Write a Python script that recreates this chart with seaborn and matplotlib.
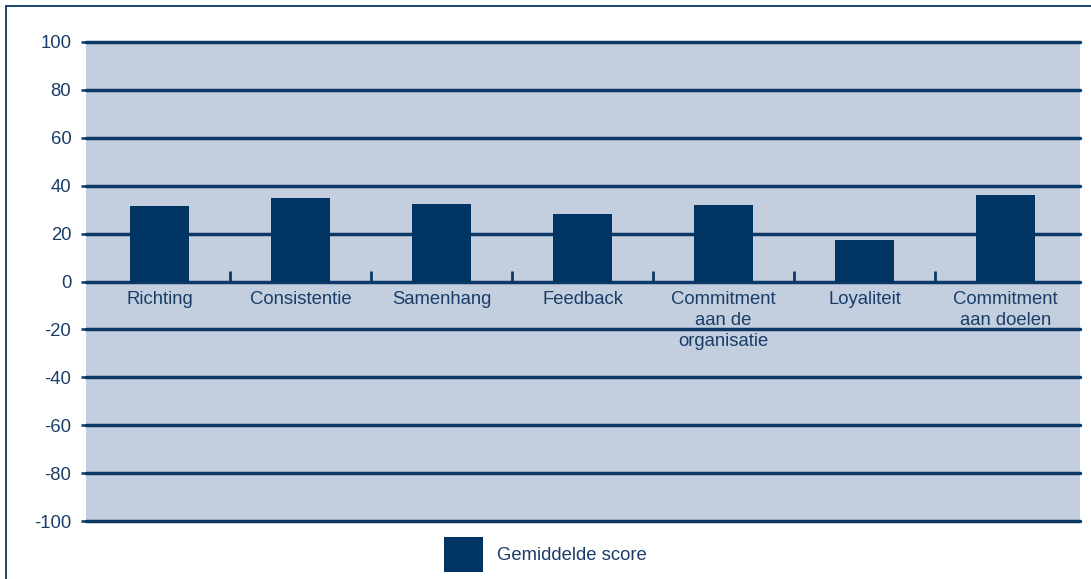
import matplotlib
matplotlib.use("Agg")
import matplotlib.pyplot as plt
import seaborn as sns
import pandas as pd
from matplotlib.patches import Rectangle

categories = ["Richting", "Consistentie", "Samenhang", "Feedback",
              "Commitment\naan de\norganisatie", "Loyaliteit", "Commitment\naan doelen"]
scores = [31.5, 34.8, 32.2, 28.0, 31.8, 17.3, 36.0]
yticks = [-100, -80, -60, -40, -20, 0, 20, 40, 60, 80, 100]
series_name = "Gemiddelde score"

NAVY = "#003462"
LINE = "#0b3865"
TXT = "#1a3d68"
BG = "#c3cede"
FS = 13.3

sns.set_theme(style="white")
plt.rcParams["font.family"] = ["Liberation Sans", "DejaVu Sans"]

df = pd.DataFrame({"cat": categories, "score": scores})

fig = plt.figure(figsize=(10.91, 5.79), dpi=100)
ax = fig.add_axes([86/1091, 1-521/579, (1080-86)/1091, (521-42)/579])
ax.set_facecolor(BG)

sns.barplot(data=df, x="cat", y="score", color=NAVY, saturation=1,
            width=0.42, ax=ax, label=series_name, zorder=3, linewidth=0,
            legend=False)

h, l = ax.get_legend_handles_labels()
if ax.get_legend() is not None:
    ax.get_legend().remove()

ax.set_xlim(-0.521, 6.528)
ax.set_ylim(-100, 100)
for s in ax.spines.values():
    s.set_visible(False)

for v in yticks:
    ax.axhline(v, color=LINE, lw=2.5, zorder=2, clip_on=False)

ax.set_yticks(yticks)
ax.set_yticklabels([str(v) for v in yticks])
ax.tick_params(axis="y", left=True, length=3.6, width=1.8, color=LINE,
               pad=7, labelsize=FS, labelcolor=TXT)
ax.set_xticks([])
ax.set_xlabel("")
ax.set_ylabel("")

# separator ticks on the zero line
for i in range(len(categories) - 1):
    ax.vlines(i + 0.5, 0, 4.2, color=LINE, lw=2, zorder=4)

for i, c in enumerate(categories):
    ax.text(i, -3.8, c, ha="center", va="top", fontsize=FS, color=TXT,
            linespacing=1.31, zorder=5)

fig.legend(h[:1], l[:1], loc="lower center", bbox_to_anchor=(0.5, -0.016),
           frameon=False, fontsize=FS, labelcolor=TXT,
           handlelength=2.1, handleheight=2.5, handletextpad=0.76)

fig.patches.append(Rectangle((6/1091, -0.1), 1.2, 1.1 - 6/579,
                             transform=fig.transFigure, fill=False,
                             edgecolor=LINE, lw=1.3))

fig.savefig("out.png", dpi=100)
